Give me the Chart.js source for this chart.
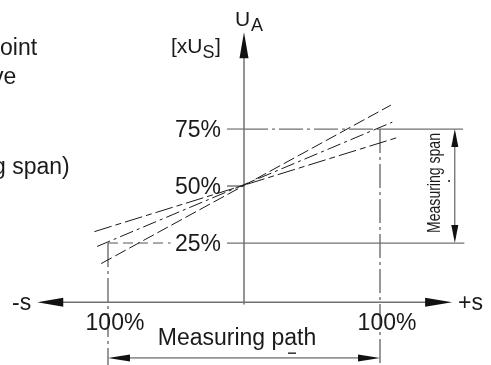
<!DOCTYPE html>
<html>
<head>
<meta charset="utf-8">
<script src="https://cdn.jsdelivr.net/npm/chart.js@4.4.0/dist/chart.umd.min.js"></script>
<style>
  body { margin: 0; background: #fff; }
  canvas { display: block; }
</style>
</head>
<body>
<canvas id="diagram" width="491" height="365"></canvas>
<script>
// output in % of supply voltage, travel in % of measuring path
var spanTicks = [25, 50, 75];
var spanLabels = ['25%', '50%', '75%'];
var pathTicks = [-100, 100];
var pathLabels = ['100%', '100%'];

// the three characteristic lines, end points
var steepX = [-105, 108];
var steepY = [16, 85.5];
var nominalX = [-108, 109];
var nominalY = [23.5, 78];
var flatX = [-110, 114];
var flatY = [30, 71.5];

function pts(xs, ys) {
  return xs.map(function(x, i) { return {x: x, y: ys[i]}; });
}

function seg(data, color, width, dash) {
  return {
    data: data, showLine: true, fill: false, pointRadius: 0,
    borderColor: color, borderWidth: width, borderDash: dash || []
  };
}

var spanLo = spanTicks[0], spanHi = spanTicks[2];
var pathLo = pathTicks[0], pathHi = pathTicks[1];
var yBottom = -28.5;

var datasets = [
  // characteristic lines
  seg(pts(steepX, steepY), '#1a1a1a', 1, [12, 4]),
  seg(pts(nominalX, nominalY), '#1a1a1a', 1, [14, 4, 3, 4]),
  seg(pts(flatX, flatY), '#1a1a1a', 1, [18, 4, 6, 4]),
  // axes
  seg([{x: 0, y: -2}, {x: 0, y: 110}], '#707070', 1.5),
  seg([{x: -146, y: -1}, {x: 147, y: -1}], '#707070', 1.5),
  // tick marks on the output axis
  seg([{x: -12.5, y: spanTicks[1]}, {x: 0, y: spanTicks[1]}], '#555', 1.2),
  seg([{x: -12.5, y: spanHi}, {x: 0, y: spanHi}], '#707070', 1.2),
  seg([{x: 0, y: spanHi}, {x: pathHi, y: spanHi}], '#707070', 1.2, [24, 4, 3, 4]),
  seg([{x: pathHi, y: spanHi}, {x: 161, y: spanHi}], '#707070', 1.2),
  seg([{x: -12.5, y: spanLo}, {x: 162, y: spanLo}], '#707070', 1.2),
  seg([{x: pathLo, y: spanLo}, {x: -54, y: spanLo}], '#555', 1, [10, 5]),
  // path limits
  seg([{x: pathLo, y: spanLo}, {x: pathLo, y: yBottom}], '#333', 1, [24, 4, 3, 4]),
  seg([{x: pathHi, y: spanHi}, {x: pathHi, y: yBottom}], '#333', 1, [24, 4, 3, 4]),
  // dimension lines
  seg([{x: 155, y: spanLo + 7}, {x: 155, y: spanHi - 7}], '#444', 1),
  seg([{x: pathLo + 14, y: -25.4}, {x: pathHi - 14, y: -25.4}], '#444', 1)
];

function arrow(ctx, tx, ty, dx, dy, len, half) {
  ctx.beginPath();
  ctx.moveTo(tx, ty);
  ctx.lineTo(tx - dx * len - dy * half, ty - dy * len + dx * half);
  ctx.lineTo(tx - dx * len + dy * half, ty - dy * len - dx * half);
  ctx.closePath();
  ctx.fill();
}

var drawingPlugin = {
  id: 'drawing',
  afterDraw: function(chart) {
    var ctx = chart.ctx;
    var sx = chart.scales.x, sy = chart.scales.y;
    var X = function(v) { return sx.getPixelForValue(v); };
    var Y = function(v) { return sy.getPixelForValue(v); };
    ctx.save();
    ctx.fillStyle = '#111';

    // axis arrows
    arrow(ctx, X(0), Y(117.5), 0, -1, 26, 4.5);
    arrow(ctx, X(-152), Y(-1), -1, 0, 26, 4.5);
    arrow(ctx, X(153), Y(-1), 1, 0, 27, 4.5);
    // dimension arrows
    arrow(ctx, X(155), Y(spanHi), 0, -1, 18, 3.5);
    arrow(ctx, X(155), Y(spanLo), 0, 1, 18, 3.5);
    arrow(ctx, X(pathLo), Y(-25.4), -1, 0, 22, 3.5);
    arrow(ctx, X(pathHi), Y(-25.4), 1, 0, 22, 3.5);
    ctx.fillRect(X(155) - 6.5, 180, 1.5, 2);
    ctx.fillRect(288, 352.5, 8, 1.3);

    ctx.fillStyle = '#1a1a1a';
    ctx.font = '23px "Liberation Sans", Arial, sans-serif';
    ctx.textBaseline = 'alphabetic';

    // tick labels
    ctx.textAlign = 'right';
    spanTicks.forEach(function(v, i) {
      ctx.fillText(spanLabels[i], 221, Y(v) + 8);
    });
    ctx.textAlign = 'center';
    pathTicks.forEach(function(v, i) {
      ctx.fillText(pathLabels[i], X(v) + 7, 330);
    });
    ctx.fillText('Measuring path', 237, 345);

    ctx.textAlign = 'left';
    ctx.fillText('-s', 12, 310);
    ctx.fillText('+s', 458, 310);
    // text cut off at the left edge of the drawing
    ctx.fillText('oint', 0, 55);
    ctx.fillText('ve', -8, 84);
    ctx.fillText('g span)', -7, 174);

    // axis title
    ctx.font = '21px "Liberation Sans", Arial, sans-serif';
    ctx.fillText('U', 235, 26);
    ctx.font = '18px "Liberation Sans", Arial, sans-serif';
    ctx.fillText('A', 251, 31);
    ctx.font = '21px "Liberation Sans", Arial, sans-serif';
    ctx.fillText('[xU', 171, 53);
    var w = ctx.measureText('[xU').width;
    ctx.font = '18px "Liberation Sans", Arial, sans-serif';
    ctx.fillText('S', 171 + w, 58);
    var w2 = ctx.measureText('S').width;
    ctx.font = '21px "Liberation Sans", Arial, sans-serif';
    ctx.fillText(']', 171 + w + w2 + 0.5, 53);

    // rotated, condensed span label
    ctx.save();
    ctx.translate(440, 183);
    ctx.rotate(-Math.PI / 2);
    ctx.scale(0.78, 1);
    ctx.textAlign = 'center';
    ctx.font = '18px "Liberation Sans", Arial, sans-serif';
    ctx.fillText('Measuring span', 0, 0);
    ctx.restore();

    ctx.restore();
  }
};

new Chart(document.getElementById('diagram').getContext('2d'), {
  type: 'scatter',
  data: { datasets: datasets },
  options: {
    responsive: false,
    animation: false,
    events: [],
    layout: { padding: 0 },
    plugins: { legend: { display: false }, tooltip: { enabled: false } },
    scales: {
      x: { type: 'linear', display: false, min: -179.4, max: 181.6 },
      y: { type: 'linear', display: false, min: yBottom, max: 131.6 }
    }
  },
  plugins: [drawingPlugin]
});
</script>
</body>
</html>
